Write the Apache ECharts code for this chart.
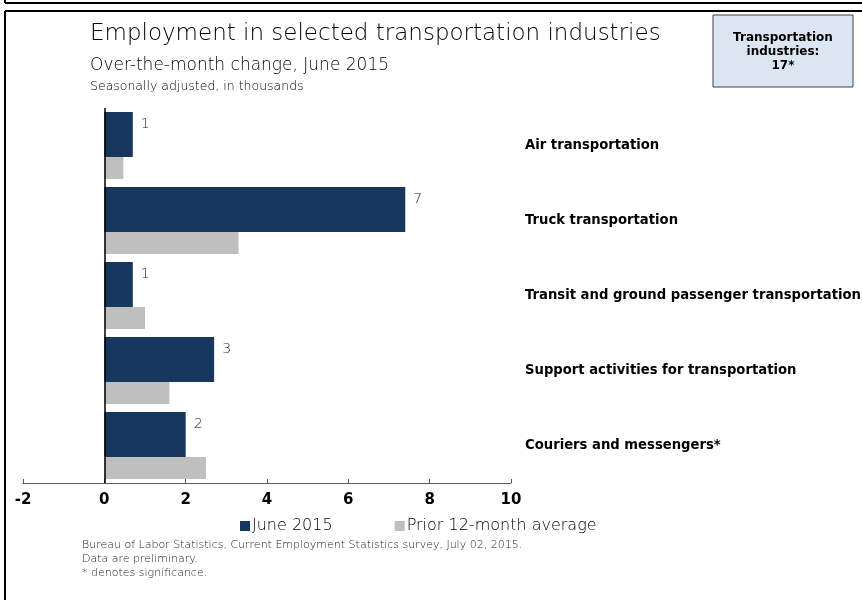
<!DOCTYPE html>
<html>
<head>
<meta charset="utf-8">
<script src="https://cdn.jsdelivr.net/npm/echarts@6/dist/echarts.min.js"></script>
<style>
html,body{margin:0;padding:0;background:#fff;}
#chart{width:862px;height:600px;}
</style>
</head>
<body>
<div id="chart"></div>
<script>
var categories = ['Air transportation', 'Truck transportation', 'Transit and ground passenger transportation', 'Support activities for transportation', 'Couriers and messengers*'];
var june2015 = [0.7, 7.4, 0.7, 2.7, 2.0];
var prior12 = [0.47, 3.3, 1.0, 1.6, 2.5];
var seriesNames = ['June 2015', 'Prior 12-month average'];
var xTicks = {min: -2, max: 10, interval: 2};
var footnotes = ['Bureau of Labor Statistics, Current Employment Statistics survey, July 02, 2015.', 'Data are preliminary.', '* denotes significance.'];
var boxText = ['Transportation', 'industries:', '17*'];

var FONT = 'DejaVu Sans';
var chart = echarts.init(document.getElementById('chart'), null, {renderer: 'canvas'});
var option = {
  backgroundColor: '#fff',
  animation: false,
  title: [
    {text: 'Employment in selected transportation industries', left: 85, top: 18,
     textStyle: {fontFamily: FONT, fontSize: 23, fontWeight: 200, color: '#000'}},
    {text: 'Over-the-month change, June 2015', left: 85, top: 52,
     textStyle: {fontFamily: FONT, fontSize: 17, fontWeight: 200, color: '#000'}},
    {text: 'Seasonally adjusted, in thousands', left: 85, top: 75,
     textStyle: {fontFamily: FONT, fontSize: 12.5, fontWeight: 200, color: '#000'}}
  ],
  legend: {
    left: 235, top: 513, itemWidth: 10, itemHeight: 10, itemGap: 62,
    icon: 'rect',
    data: seriesNames,
    textStyle: {fontFamily: FONT, fontSize: 16, fontWeight: 200, color: '#000', padding: [0,0,0,-3]}
  },
  grid: {left: 23, right: 351, top: 108, bottom: 117, containLabel: false, outerBoundsMode: 'none'},
  xAxis: {
    type: 'value', min: xTicks.min, max: xTicks.max, interval: xTicks.interval,
    axisLine: {show: true, onZero: false, lineStyle: {color: '#595959', width: 1}},
    axisTick: {show: true, inside: true, length: 4, lineStyle: {color: '#595959'}},
    splitLine: {show: false},
    axisLabel: {fontFamily: FONT, fontSize: 15, fontWeight: 'bold', color: '#000', margin: 10}
  },
  yAxis: {
    type: 'category', data: categories, inverse: true, position: 'right',
    axisLine: {show: false}, axisTick: {show: false},
    axisLabel: {fontFamily: FONT, fontSize: 13.2, fontWeight: 'bold', color: '#000', margin: 14, align: 'left'}
  },
  series: [
    {name: seriesNames[0], type: 'bar', data: june2015, barWidth: 45, barGap: '0%',
     itemStyle: {color: '#17375e'},
     label: {show: true, position: 'right', distance: 8, offset: [0, -10],
       fontFamily: FONT, fontSize: 14, fontWeight: 200, color: '#222',
       formatter: function (p) { return Math.round(p.value); }},
     markLine: {silent: true, symbol: 'none', label: {show: false},
       lineStyle: {color: '#000', width: 1.5, type: 'solid'},
       data: [{xAxis: 0}]}
    },
    {name: seriesNames[1], type: 'bar', data: prior12, barWidth: 22, barGap: '0%',
     itemStyle: {color: '#bfbfbf'}}
  ],
  graphic: [
    {type: 'line', shape: {x1: 5, y1: 0, x2: 5, y2: 3}, style: {stroke: '#000', lineWidth: 2}},
    {type: 'line', shape: {x1: 5, y1: 3, x2: 862, y2: 3}, style: {stroke: '#000', lineWidth: 2}},
    {type: 'line', shape: {x1: 5, y1: 11, x2: 862, y2: 11}, style: {stroke: '#000', lineWidth: 2}},
    {type: 'line', shape: {x1: 5, y1: 11, x2: 5, y2: 600}, style: {stroke: '#000', lineWidth: 2}},
    {type: 'rect', shape: {x: 713, y: 15, width: 140, height: 72},
     style: {fill: '#dce6f2', stroke: '#404040', lineWidth: 1}},
    {type: 'text', x: 783, y: 31,
     style: {text: boxText.join('\n'), fontFamily: FONT, fontSize: 12, fontWeight: 'bold',
       fill: '#000', align: 'center', lineHeight: 14}},
    {type: 'text', x: 82, y: 538,
     style: {text: footnotes.join('\n'), fontFamily: FONT, fontSize: 11, fontWeight: 200,
       fill: '#222', lineHeight: 14}}
  ]
};
chart.setOption(option);
</script>
</body>
</html>
